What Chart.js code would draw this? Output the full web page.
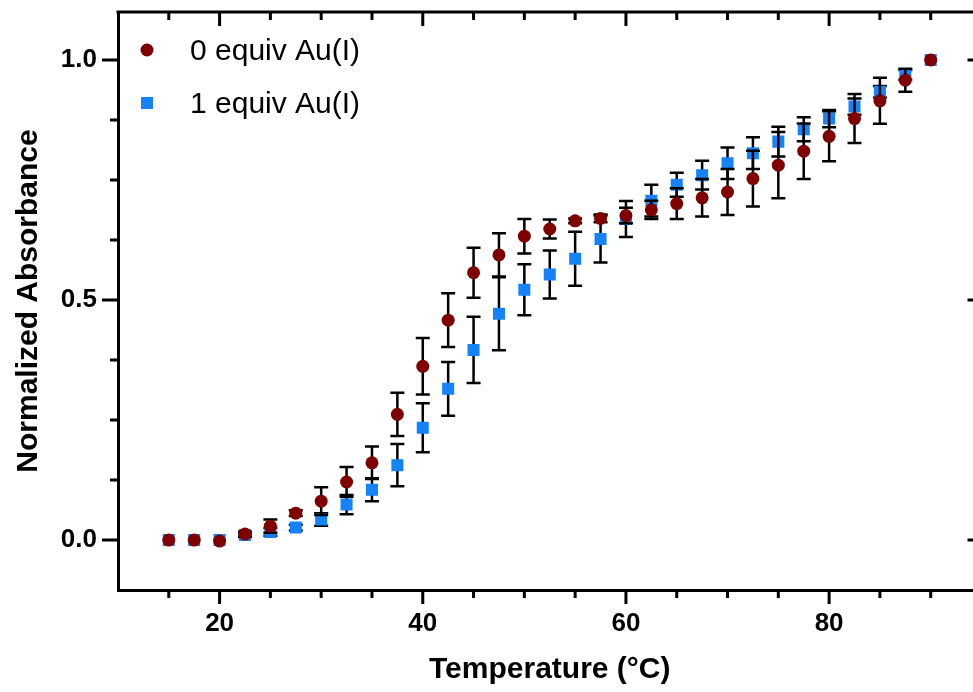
<!DOCTYPE html>
<html lang="en">
<head>
  <meta charset="UTF-8" />
  <title>Normalized Absorbance vs Temperature</title>
  <script src="https://cdn.jsdelivr.net/npm/chart.js@4/dist/chart.umd.min.js"></script>
  <style>
    html, body {
      margin: 0;
      padding: 0;
      background: #fff;
      overflow: hidden;
    }
    #wrap {
      width: 990px;
      height: 692px;
    }
  </style>
</head>
<body>
  <div id="wrap"><canvas id="meltChart" width="990" height="692"></canvas></div>

  <script>
    // temperatures (°C)
    const temps = [15, 17.5, 20, 22.5, 25, 27.5, 30, 32.5, 35, 37.5, 40, 42.5, 45, 47.5, 50,
                   52.5, 55, 57.5, 60, 62.5, 65, 67.5, 70, 72.5, 75, 77.5, 80, 82.5, 85, 87.5, 90];

    // 0 equiv Au(I)
    const abs0 = [0, 0, -0.002, 0.0125, 0.029, 0.056, 0.081, 0.121, 0.161, 0.262, 0.362, 0.458, 0.557, 0.594, 0.633,
                  0.648, 0.665, 0.670, 0.676, 0.688, 0.701, 0.713, 0.725, 0.753, 0.781, 0.810, 0.841, 0.878, 0.915, 0.958, 1.0];
    const err0 = [0, 0, 0, 0.005, 0.014, 0.006, 0.029, 0.031, 0.034, 0.045, 0.059, 0.056, 0.052, 0.045, 0.036,
                  0.020, 0.005, 0.008, 0.016, 0.019, 0.032, 0.039, 0.048, 0.058, 0.069, 0.058, 0.052, 0.051, 0.048, 0.024, 0];

    // 1 equiv Au(I)
    const abs1 = [0, 0, 0, 0.0104, 0.017, 0.026, 0.043, 0.074, 0.105, 0.156, 0.234, 0.315, 0.396, 0.4715, 0.5215,
                  0.553, 0.586, 0.627, 0.669, 0.707, 0.740, 0.760, 0.785, 0.806, 0.830, 0.856, 0.878, 0.903, 0.934, 0.969, 1.0];
    const err1 = [0, 0, 0, 0.004, 0.008, 0.006, 0.013, 0.020, 0.024, 0.044, 0.051, 0.056, 0.069, 0.076, 0.053,
                  0.050, 0.056, 0.049, 0.0375, 0.033, 0.025, 0.030, 0.033, 0.033, 0.031, 0.025, 0.018, 0.017, 0.012, 0.010, 0];

    const seriesNames = ['0 equiv Au(I)', '1 equiv Au(I)'];
    const errSets = [err0, err1];

    const xMajor = [20, 40, 60, 80];
    const xMinor = [15, 25, 30, 35, 45, 50, 55, 65, 70, 75, 85, 90];
    const yMajor = [0, 0.5, 1.0];
    const yMinor = [0.125, 0.25, 0.375, 0.625, 0.75, 0.875];

    const FONT = "'Liberation Sans', Arial, Helvetica, sans-serif";
    Chart.defaults.font.family = FONT;
    Chart.defaults.color = '#000';

    // error bars, drawn just before each dataset's own markers
    const errorBars = {
      id: 'errorBars',
      beforeDatasetDraw(chart, args) {
        const errs = errSets[args.index];
        if (!errs) return;
        const ds = chart.data.datasets[args.index];
        const { ctx, scales: { x, y } } = chart;
        ctx.save();
        ctx.strokeStyle = '#000';
        ctx.lineWidth = 2.5;
        ds.data.forEach((pt, i) => {
          const e = errs[i];
          if (!e) return;
          const px = x.getPixelForValue(pt.x);
          const yTop = y.getPixelForValue(pt.y + e);
          const yBot = y.getPixelForValue(pt.y - e);
          ctx.beginPath();
          ctx.moveTo(px, yTop); ctx.lineTo(px, yBot);
          ctx.moveTo(px - 7, yTop); ctx.lineTo(px + 7, yTop);
          ctx.moveTo(px - 7, yBot); ctx.lineTo(px + 7, yBot);
          ctx.stroke();
        });
        ctx.restore();
      }
    };

    // top/right frame lines and all the tick marks
    const frameTicks = {
      id: 'frameTicks',
      beforeDatasetsDraw(chart) {
        const { ctx, chartArea: a, scales: { x, y } } = chart;
        ctx.save();
        ctx.strokeStyle = '#000';
        ctx.lineWidth = 3;
        ctx.lineCap = 'square';
        ctx.beginPath();
        ctx.moveTo(a.left, a.top); ctx.lineTo(a.right, a.top); ctx.lineTo(a.right, a.bottom);
        ctx.stroke();
        ctx.lineCap = 'butt';
        ctx.beginPath();
        xMajor.concat(xMinor).forEach(v => {
          const len = xMajor.includes(v) ? 14 : 8;
          const px = x.getPixelForValue(v);
          ctx.moveTo(px, a.bottom); ctx.lineTo(px, a.bottom + len);
          ctx.moveTo(px, a.top); ctx.lineTo(px, a.top + len);
        });
        yMajor.concat(yMinor).forEach(v => {
          const major = yMajor.includes(v);
          const py = y.getPixelForValue(v);
          ctx.moveTo(a.left, py); ctx.lineTo(a.left - (major ? 16 : 8), py);
          ctx.moveTo(a.right, py); ctx.lineTo(a.right - (major ? 14 : 8), py);
        });
        ctx.stroke();
        ctx.restore();
      }
    };

    // legend inside the plot, top left
    const insetLegend = {
      id: 'insetLegend',
      afterDraw(chart) {
        const { ctx, chartArea: a } = chart;
        ctx.save();
        ctx.font = '30px ' + FONT;
        ctx.textBaseline = 'middle';
        chart.data.datasets.forEach((ds, i) => {
          const cx = a.left + 29;
          const cy = a.top + 38 + i * 53;
          ctx.fillStyle = ds.backgroundColor;
          if (ds.pointStyle === 'rect') {
            ctx.fillRect(cx - 6, cy - 6, 12, 12);
          } else {
            ctx.beginPath();
            ctx.arc(cx, cy, 6.5, 0, Math.PI * 2);
            ctx.fill();
          }
          ctx.fillStyle = '#000';
          ctx.fillText(ds.label, a.left + 72, cy + 2);
        });
        ctx.restore();
      }
    };

    const ctx = document.getElementById('meltChart').getContext('2d');
    new Chart(ctx, {
      type: 'scatter',
      data: {
        datasets: [
          {
            label: seriesNames[0],
            data: temps.map((t, i) => ({ x: t, y: abs0[i] })),
            pointStyle: 'circle',
            pointRadius: 6.5,
            pointHoverRadius: 6.5,
            pointBorderWidth: 0,
            backgroundColor: '#800000',
            borderColor: '#800000'
          },
          {
            label: seriesNames[1],
            data: temps.map((t, i) => ({ x: t, y: abs1[i] })),
            pointStyle: 'rect',
            pointRadius: 8.5,
            pointHoverRadius: 8.5,
            pointBorderWidth: 0,
            backgroundColor: '#1582F7',
            borderColor: '#1582F7'
          }
        ]
      },
      options: {
        responsive: false,
        animation: false,
        devicePixelRatio: 1,
        layout: { padding: { top: 12, right: 6, left: 0, bottom: 0 } },
        plugins: {
          legend: { display: false },
          tooltip: { enabled: false }
        },
        scales: {
          x: {
            type: 'linear',
            min: 10,
            max: 95,
            afterBuildTicks: s => { s.ticks = xMajor.map(v => ({ value: v })); },
            afterFit: s => { s.height = 102; s.paddingLeft = 0; s.paddingRight = 0; },
            grid: { display: false, drawTicks: false },
            border: { display: true, color: '#000', width: 3 },
            ticks: {
              padding: 18,
              maxRotation: 0,
              font: { size: 26, weight: 'bold' },
              callback: v => v
            },
            title: {
              display: true,
              text: 'Temperature (°C)',
              font: { size: 30, weight: 'bold' },
              padding: { top: 0, bottom: 4 }
            }
          },
          y: {
            type: 'linear',
            min: -0.104,
            max: 1.1,
            afterBuildTicks: s => { s.ticks = yMajor.map(v => ({ value: v })); },
            afterFit: s => { s.width = 118; s.paddingTop = 0; s.paddingBottom = 0; },
            grid: { display: false, drawTicks: false },
            border: { display: true, color: '#000', width: 3 },
            ticks: {
              padding: 21,
              font: { size: 26, weight: 'bold' },
              callback: v => v.toFixed(1)
            },
            title: {
              display: true,
              text: 'Normalized Absorbance',
              font: { size: 30, weight: 'bold' },
              padding: { top: 11, bottom: 0 }
            }
          }
        }
      },
      plugins: [errorBars, frameTicks, insetLegend]
    });
  </script>
</body>
</html>
